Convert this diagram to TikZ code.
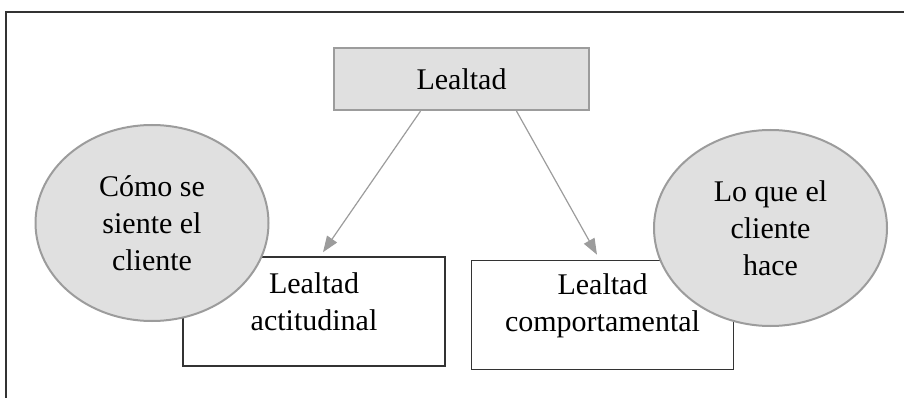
\documentclass[tikz,border=0pt]{standalone}
\usepackage{fontspec}
\setmainfont{Liberation Serif}
\usetikzlibrary{arrows.meta,shapes.geometric}
\definecolor{fillgray}{HTML}{E0E0E0}
\definecolor{edgegray}{HTML}{9C9C9C}
\definecolor{framegray}{HTML}{333333}
\tikzset{
  topbox/.style = {draw=edgegray, line width=2.2pt, fill=fillgray,
                   minimum width=255pt, minimum height=62pt, inner sep=0pt},
  plainbox/.style = {draw=framegray, line width=1.6pt, fill=white,
                     minimum width=262pt, minimum height=109pt, inner sep=0pt},
  bubble/.style = {ellipse, draw=edgegray, line width=2pt, fill=fillgray,
                   minimum width=233pt, minimum height=196pt, inner sep=0pt, align=center},
  boxtext/.style = {align=center, inner sep=0pt},
  link/.style = {draw=edgegray, line width=1.2pt, -{Triangle[length=16pt,width=12pt]}}
}
\begin{document}
\begin{tikzpicture}[x=1pt, y=-1pt, font=\fontsize{30}{37}\selectfont]
  \useasboundingbox (0,0) rectangle (904,398);
  \draw[framegray, line width=2pt] (6,420) -- (6,12) -- (930,12);

  \node[topbox] (lea) at (461.5,79) {Lealtad};

  \node[plainbox] (act) at (314,311.5) {};
  \node[boxtext] (acttext) at (314,302) {Lealtad\\actitudinal};
  \node[plainbox] (com) at (602.5,315) {};
  \node[boxtext] (comtext) at (602.5,306) {Lealtad\\comportamental};

  \draw[link] ([xshift=-41pt]lea.south) -- ([xshift=9pt,yshift=4pt]act.north);
  \draw[link] ([xshift=55pt]lea.south) -- ([xshift=-5.5pt,yshift=5pt]com.north);

  \node[bubble] (siente) at (152,223) {Cómo se\\siente el\\cliente};
  \node[bubble] (hace) at (770.5,228) {Lo que el\\cliente\\hace};
\end{tikzpicture}
\end{document}
